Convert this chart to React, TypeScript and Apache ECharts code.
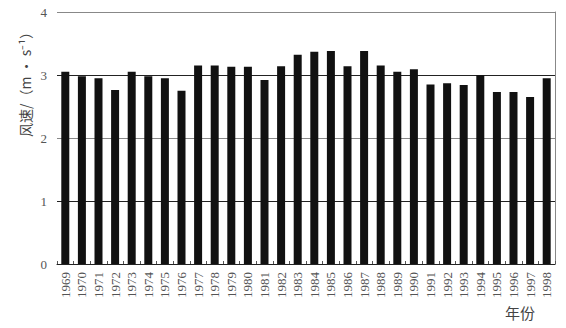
import React, { useEffect, useRef } from "react";
import * as echarts from "echarts";

const years: string[] = [
  "1969", "1970", "1971", "1972", "1973", "1974", "1975", "1976", "1977", "1978",
  "1979", "1980", "1981", "1982", "1983", "1984", "1985", "1986", "1987", "1988",
  "1989", "1990", "1991", "1992", "1993", "1994", "1995", "1996", "1997", "1998",
];
const windSpeed: number[] = [
  3.05, 2.98, 2.95, 2.76, 3.05, 2.98, 2.95, 2.75, 3.15, 3.15,
  3.13, 3.13, 2.92, 3.14, 3.32, 3.37, 3.38, 3.14, 3.38, 3.15,
  3.05, 3.09, 2.85, 2.87, 2.84, 3.0, 2.73, 2.73, 2.65, 2.95,
];
const yAxisName = "风速/（m · s⁻¹）";
const xAxisName = "年份";

export default function App() {
  const ref = useRef<HTMLDivElement>(null);
  useEffect(() => {
    if (!ref.current) return;
    const chart = echarts.init(ref.current, null, { renderer: "svg" });
    chart.setOption({
      animation: false,
      backgroundColor: "#fff",
      grid: { left: 57, right: 11, top: 12, bottom: 64 },
      xAxis: {
        type: "category",
        data: years,
        axisLine: { show: true, lineStyle: { color: "#222", width: 1 } },
        axisTick: { show: true, inside: true, length: 3, lineStyle: { color: "#555" } },
        axisLabel: {
          rotate: 90,
          interval: 0,
          color: "#555",
          fontSize: 13,
          fontFamily: "Liberation Serif",
          margin: 8,
        },
      },
      yAxis: [
        {
          type: "value",
          min: 0,
          max: 4,
          interval: 1,
          axisLine: { show: false },
          axisTick: { show: false },
          axisLabel: { color: "#555", fontSize: 13, fontFamily: "Liberation Serif", margin: 10 },
          splitLine: {
            show: true,
            lineStyle: { color: ["#222", "#222", "#888", "#222", "#888"], width: 1 },
          },
        },
        {
          type: "value",
          position: "right",
          min: 0,
          max: 4,
          interval: 1,
          axisLine: { show: true, lineStyle: { color: "#888" } },
          axisTick: { show: false },
          axisLabel: { show: false },
          splitLine: { show: false },
        },
      ],
      graphic: [
        {
          type: "text",
          x: 25,
          y: 81,
          rotation: Math.PI / 2,
          style: {
            text: yAxisName,
            fill: "#444",
            fontSize: 14,
            fontFamily: "Noto Sans CJK SC",
            align: "center",
            verticalAlign: "middle",
          },
        },
        {
          type: "text",
          x: 520,
          y: 312,
          style: {
            text: xAxisName,
            fill: "#444",
            fontSize: 15,
            fontFamily: "Noto Sans CJK SC",
            align: "center",
            verticalAlign: "middle",
          },
        },
      ],
      series: [
        {
          type: "bar",
          data: windSpeed,
          barWidth: 8,
          itemStyle: { color: "#111" },
        },
      ],
    });
    return () => chart.dispose();
  }, []);
  return <div ref={ref} style={{ width: 566, height: 328, position: "absolute", left: 0, top: 0 }} />;
}
